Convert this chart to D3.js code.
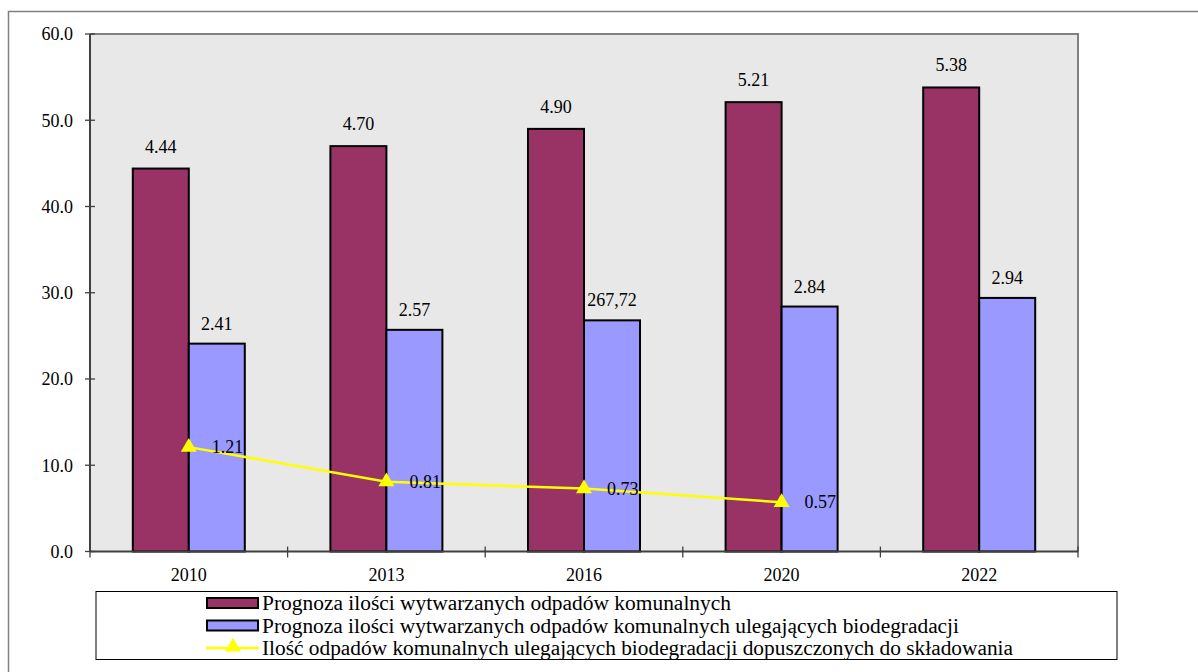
<!DOCTYPE html>
<html><head><meta charset="utf-8">
<script src="https://cdn.jsdelivr.net/npm/d3@7/dist/d3.min.js"></script>
<style>body{margin:0;background:#fff}svg{display:block}</style>
</head><body><svg id="c" width="1198" height="672"></svg>
<script>
const categories = ["2010","2013","2016","2020","2022"];
const totalWaste = [44.4, 47.0, 49.0, 52.1, 53.8];
const totalLabels = ["4.44","4.70","4.90","5.21","5.38"];
const bioWaste = [24.1, 25.7, 26.8, 28.4, 29.4];
const bioLabels = ["2.41","2.57","267,72","2.84","2.94"];
const landfill = [12.1, 8.1, 7.3, 5.7];
const landfillLabels = ["1.21","0.81","0.73","0.57"];
const yTicks = [0,10,20,30,40,50,60];
const legendNames = ["Prognoza ilości wytwarzanych odpadów komunalnych",
 "Prognoza ilości wytwarzanych odpadów komunalnych ulegających biodegradacji",
 "Ilość odpadów komunalnych ulegających biodegradacji dopuszczonych do składowania"];

const FONT = "Liberation Serif";
const svg = d3.select("#c");
const L=90, R=1078, T=34, B=551.5;
svg.append("path").attr("d","M8.5,672V11.5H1198").attr("fill","none").attr("stroke","#808080").attr("stroke-width",1.5);

const x = d3.scaleBand().domain(categories).range([L,R]);
const y = d3.scaleLinear().domain([0,60]).range([B,T]);
const bw = 56;

svg.append("rect").attr("x",L).attr("y",T).attr("width",R-L).attr("height",B-T).attr("fill","#e8e8e8");
svg.append("path").attr("d",`M${L},${T}H${R}V${B}`).attr("fill","none").attr("stroke","#808080").attr("stroke-width",2);

const g = svg.append("g");
g.selectAll(".b1").data(categories).join("rect")
 .attr("x",d=>x(d)+x.bandwidth()/2-bw).attr("y",(d,i)=>y(totalWaste[i])).attr("width",bw)
 .attr("height",(d,i)=>B-y(totalWaste[i])).attr("fill","#993366").attr("stroke","#000").attr("stroke-width",2);
g.selectAll(".b2").data(categories).join("rect")
 .attr("x",d=>x(d)+x.bandwidth()/2).attr("y",(d,i)=>y(bioWaste[i])).attr("width",bw)
 .attr("height",(d,i)=>B-y(bioWaste[i])).attr("fill","#9999ff").attr("stroke","#000").attr("stroke-width",2);

g.selectAll(".l1").data(categories).join("text")
 .attr("x",d=>x(d)+x.bandwidth()/2-bw/2).attr("y",(d,i)=>y(totalWaste[i])-16)
 .attr("text-anchor","middle").attr("font-size",18).text((d,i)=>totalLabels[i]);
g.selectAll(".l2").data(categories).join("text")
 .attr("x",d=>x(d)+x.bandwidth()/2+bw/2).attr("y",(d,i)=>y(bioWaste[i])-14)
 .attr("text-anchor","middle").attr("font-size",18).text((d,i)=>bioLabels[i]);

const yAxis = d3.axisLeft(y).tickValues(yTicks).tickFormat(d3.format(".1f")).tickSize(0);
const ya = svg.append("g").attr("transform",`translate(${L},0)`).call(yAxis);
ya.select(".domain").remove();
ya.attr("font-family",FONT).attr("font-size",18);
ya.selectAll("text").attr("x",-17).attr("fill","#000");
svg.append("line").attr("x1",L).attr("x2",L).attr("y1",T).attr("y2",B).attr("stroke","#404040").attr("stroke-width",2);
svg.selectAll(".yt").data(yTicks).join("line").attr("x1",L-5).attr("x2",L+5)
 .attr("y1",d=>y(d)).attr("y2",d=>y(d)).attr("stroke","#404040").attr("stroke-width",1.3);
svg.append("line").attr("x1",L).attr("x2",R).attr("y1",B).attr("y2",B).attr("stroke","#404040").attr("stroke-width",2);
const xt = categories.map(c=>x(c)).concat([R]);
svg.selectAll(".xt").data(xt).join("line").attr("x1",d=>d).attr("x2",d=>d).attr("y1",B-5).attr("y2",B+6)
 .attr("stroke","#404040").attr("stroke-width",1.3);
svg.selectAll(".xl").data(categories).join("text").attr("x",d=>x(d)+x.bandwidth()/2).attr("y",581)
 .attr("text-anchor","middle").attr("font-size",18).text(d=>d);

const lc = categories.slice(0,landfill.length);
const line = d3.line().x(d=>x(d)+x.bandwidth()/2).y((d,i)=>y(landfill[i]));
svg.append("path").datum(lc).attr("d",line).attr("fill","none").attr("stroke","#ffff00").attr("stroke-width",2.5);
const tri = d3.symbol().type(d3.symbolTriangle).size(110);
svg.selectAll(".pt").data(lc).join("path").attr("d",tri)
 .attr("transform",(d,i)=>`translate(${x(d)+x.bandwidth()/2},${y(landfill[i])})`).attr("fill","#ffff00");
svg.selectAll(".pl").data(lc).join("text").attr("x",d=>x(d)+x.bandwidth()/2+23).attr("y",(d,i)=>y(landfill[i])+6)
 .attr("font-size",18).text((d,i)=>landfillLabels[i]);

svg.append("rect").attr("x",96).attr("y",591.5).attr("width",1021).attr("height",68).attr("fill","#fff").attr("stroke","#000").attr("stroke-width",1);
const rows=[603,625.5,648];
const cols=["#993366","#9999ff"];
[0,1].forEach(i=>{
 svg.append("rect").attr("x",207).attr("y",rows[i]-5).attr("width",51).attr("height",10).attr("fill",cols[i]).attr("stroke","#000").attr("stroke-width",2);
});
svg.append("line").attr("x1",206).attr("x2",259).attr("y1",rows[2]).attr("y2",rows[2]).attr("stroke","#ffff00").attr("stroke-width",2.5);
svg.append("path").attr("d",tri).attr("transform",`translate(233,${rows[2]-1})`).attr("fill","#ffff00");
const legendWidths=[469,697,751];
legendNames.forEach((n,i)=>{
 svg.append("text").attr("x",262).attr("y",rows[i]+7).attr("font-size",20.5)
  .attr("textLength",legendWidths[i]).attr("lengthAdjust","spacingAndGlyphs").text(n);
});
svg.selectAll("text").attr("font-family",FONT).attr("fill","#000");
</script></body></html>
